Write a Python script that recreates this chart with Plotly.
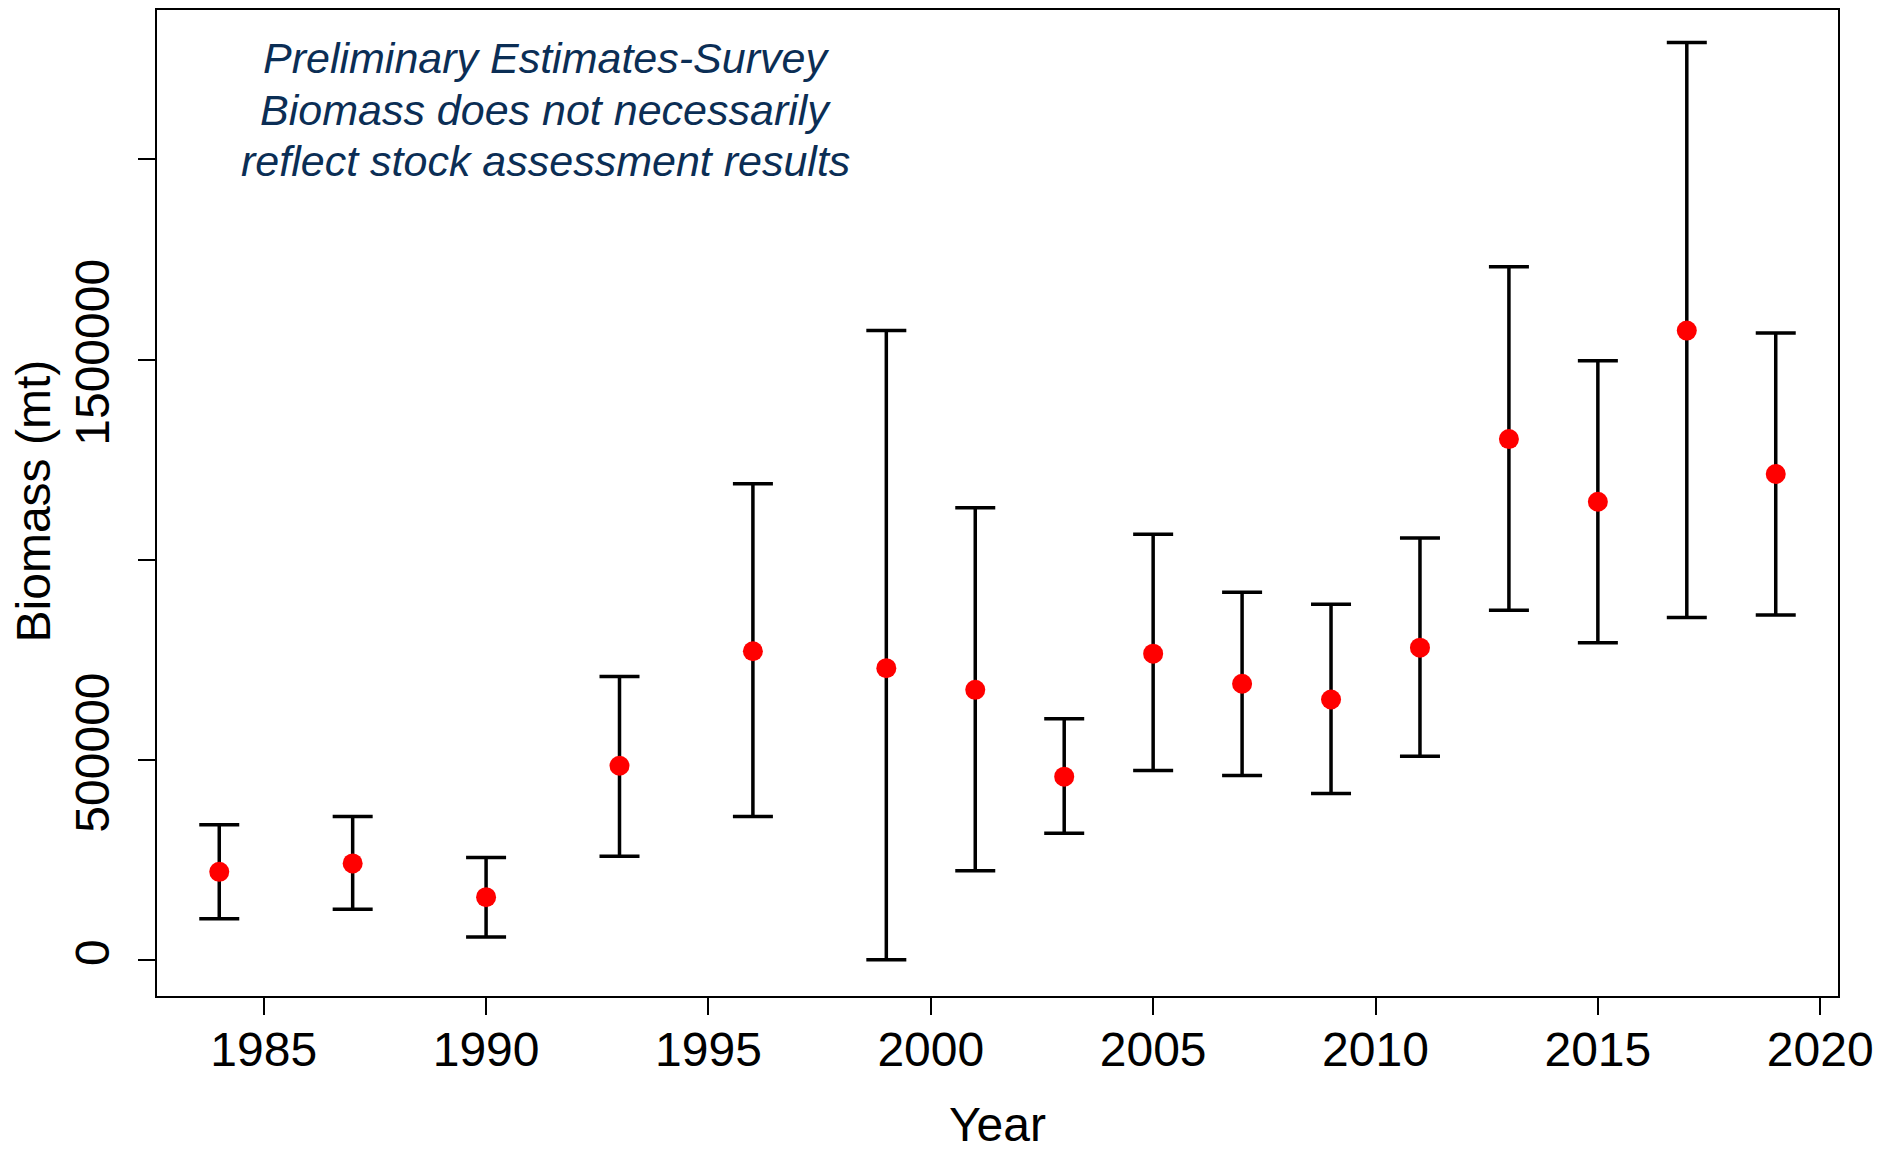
import plotly.graph_objects as go

# survey biomass estimates (mt)
years = [1984, 1987, 1990, 1993, 1996, 1999, 2001, 2003, 2005, 2007, 2009, 2011, 2013, 2015, 2017, 2019]
biomass = [219900, 241000, 156600, 484900, 771100, 728900, 674700, 457800,
           765100, 689800, 650600, 780100, 1301200, 1144600, 1572300, 1213900]
upper = [337400, 358400, 256000, 707800, 1189800, 1572300, 1129500, 602400,
         1063300, 918700, 888600, 1054200, 1731900, 1497000, 2292200, 1566300]
lower = [102400, 126500, 57200, 259000, 358400, 0, 222900, 316300,
         472900, 460800, 415700, 509000, 873500, 792200, 855400, 861500]

x_ticks = [1985, 1990, 1995, 2000, 2005, 2010, 2015, 2020]
y_ticks = [0, 500000, 1000000, 1500000, 2000000]
y_labels = ['0', '500000', '', '1500000', '']

note_lines = ["Preliminary Estimates-Survey",
              "Biomass does not necessarily",
              "reflect stock assessment results"]
note_y = [2253000, 2123500, 1997000]

err_plus = [u - b for u, b in zip(upper, biomass)]
err_minus = [b - l for b, l in zip(biomass, lower)]

fig = go.Figure()
fig.add_trace(go.Scatter(
    x=years, y=biomass, mode='markers',
    marker=dict(color='#ff0000', size=20),
    error_y=dict(type='data', symmetric=False, array=err_plus, arrayminus=err_minus,
                 color='black', thickness=3.5, width=20),
    showlegend=False,
))

# one annotation per line so the line spacing matches the original
for txt, yv in zip(note_lines, note_y):
    fig.add_annotation(
        x=1991.34, y=yv, xref='x', yref='y', text=txt, showarrow=False,
        font=dict(family='Liberation Sans', size=43, color='#0b2e55', style='italic'),
        xanchor='center', yanchor='middle',
    )

font = dict(family='Liberation Sans', size=48, color='black')

# y title as an annotation, pushed as far left as the page allows
fig.add_annotation(
    x=-0.0735, y=0.502, xref='paper', yref='paper', text='Biomass (mt)',
    textangle=-90, showarrow=False, font=font, xanchor='center', yanchor='middle',
)

# page body adds an 8px margin, so the figure is 8px smaller than the window
fig.update_layout(
    width=1882, height=1143,
    margin=dict(l=149, r=52, t=2, b=155),
    plot_bgcolor='white', paper_bgcolor='white',
    font=font,
)
fig.update_xaxes(
    range=[1982.6, 2020.4], tickvals=x_ticks, ticks='outside', ticklen=17, tickwidth=2,
    tickcolor='black', showline=True, linecolor='black', linewidth=2, mirror=True,
    showgrid=False, zeroline=False, tickfont=font, ticklabelstandoff=-7,
    title=dict(text='Year', font=font, standoff=37), automargin=False,
)
fig.update_yaxes(
    range=[-90360, 2373400], tickvals=y_ticks, ticktext=y_labels, tickangle=-90,
    ticks='outside', ticklen=17, tickwidth=2, tickcolor='black',
    showline=True, linecolor='black', linewidth=2, mirror=True,
    showgrid=False, zeroline=False, tickfont=font, ticklabelstandoff=10,
    automargin=False,
)

fig.write_html("out.html")
